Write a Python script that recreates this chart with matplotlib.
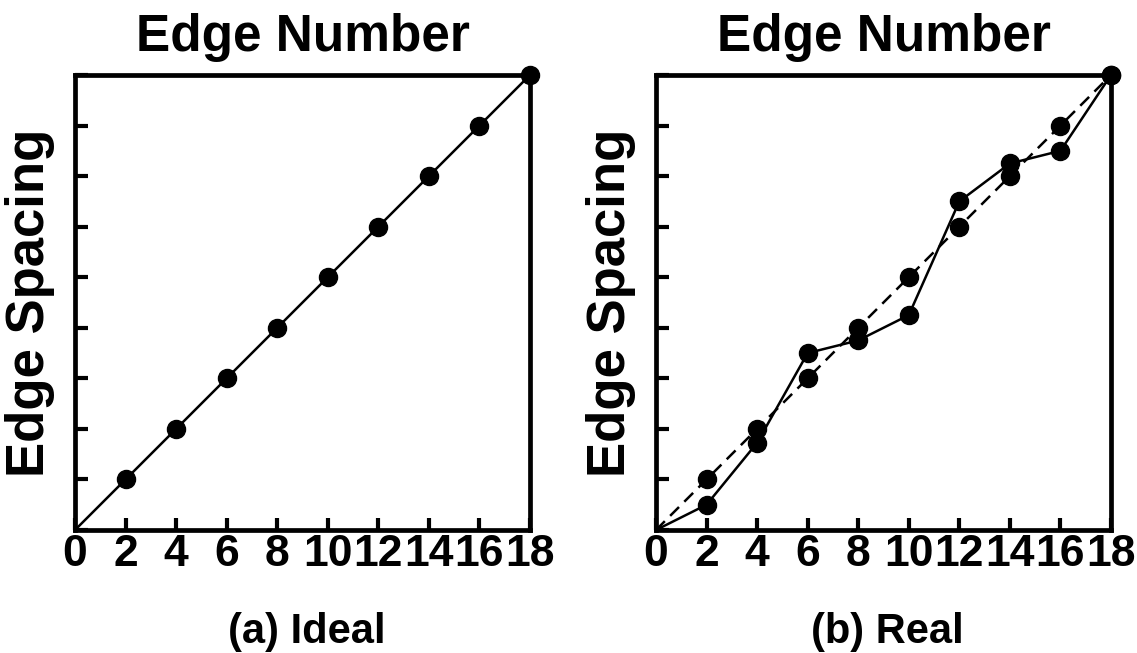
import matplotlib
matplotlib.use("Agg")
import matplotlib.pyplot as plt

plt.rcParams["font.family"] = ["Liberation Sans", "DejaVu Sans"]
plt.rcParams["font.weight"] = "bold"

# edge index and spacing values for both panels
edge_number = [0, 2, 4, 6, 8, 10, 12, 14, 16, 18]
ideal_spacing = [0, 2, 4, 6, 8, 10, 12, 14, 16, 18]
real_spacing = [0, 1.0, 3.45, 7.0, 7.5, 8.5, 13.0, 14.5, 15.0, 18]
tick_labels = ["0", "2", "4", "6", "8", "10", "12", "14", "16", "18"]
panel_captions = ["(a) Ideal", "(b) Real"]

W, H = 1137, 653
fig = plt.figure(figsize=(W / 100, H / 100), dpi=100)

ax_ideal = fig.add_axes([75 / W, 1 - 530 / H, 455 / W, 455 / H])
ax_real = fig.add_axes([656 / W, 1 - 530 / H, 455 / W, 455 / H])

mk = dict(marker="o", markersize=13, markerfacecolor="black", markeredgecolor="black")

# ideal: straight line through every edge
ax_ideal.plot(edge_number, ideal_spacing, color="black", lw=1.8,
              markevery=slice(1, None), clip_on=False, zorder=3, **mk)

# real: dashed ideal reference plus measured spacing
ax_real.plot(edge_number, ideal_spacing, color="black", lw=1.8, linestyle=(0, (5, 3)),
             markevery=slice(1, None), clip_on=False, zorder=3, **mk)
ax_real.plot(edge_number, real_spacing, color="black", lw=1.8,
             markevery=slice(1, None), clip_on=False, zorder=4, **mk)

for ax, cap in zip([ax_ideal, ax_real], panel_captions):
    ax.set_xlim(0, 18)
    ax.set_ylim(0, 18)
    ax.set_xticks(edge_number)
    ax.set_xticklabels(tick_labels)
    ax.set_yticks(edge_number)
    ax.set_yticklabels([])
    ax.tick_params(direction="in", length=9, width=3, labelsize=32, pad=3,
                   top=False, right=False)
    for sp in ax.spines.values():
        sp.set_linewidth(3.4)
    ax.set_title("Edge Number", fontsize=37, fontweight="bold", pad=17)
    ax.text(-0.098, 0.5, "Edge Spacing", transform=ax.transAxes, rotation=90,
            ha="center", va="center", fontsize=38, fontweight="bold")
    pos = ax.get_position()
    fig.text((pos.x0 + pos.x1) / 2 + 4 / W, 1 - 643 / H, cap, ha="center", va="baseline",
             fontsize=30, fontweight="bold")

fig.savefig("out.png", dpi=100)
